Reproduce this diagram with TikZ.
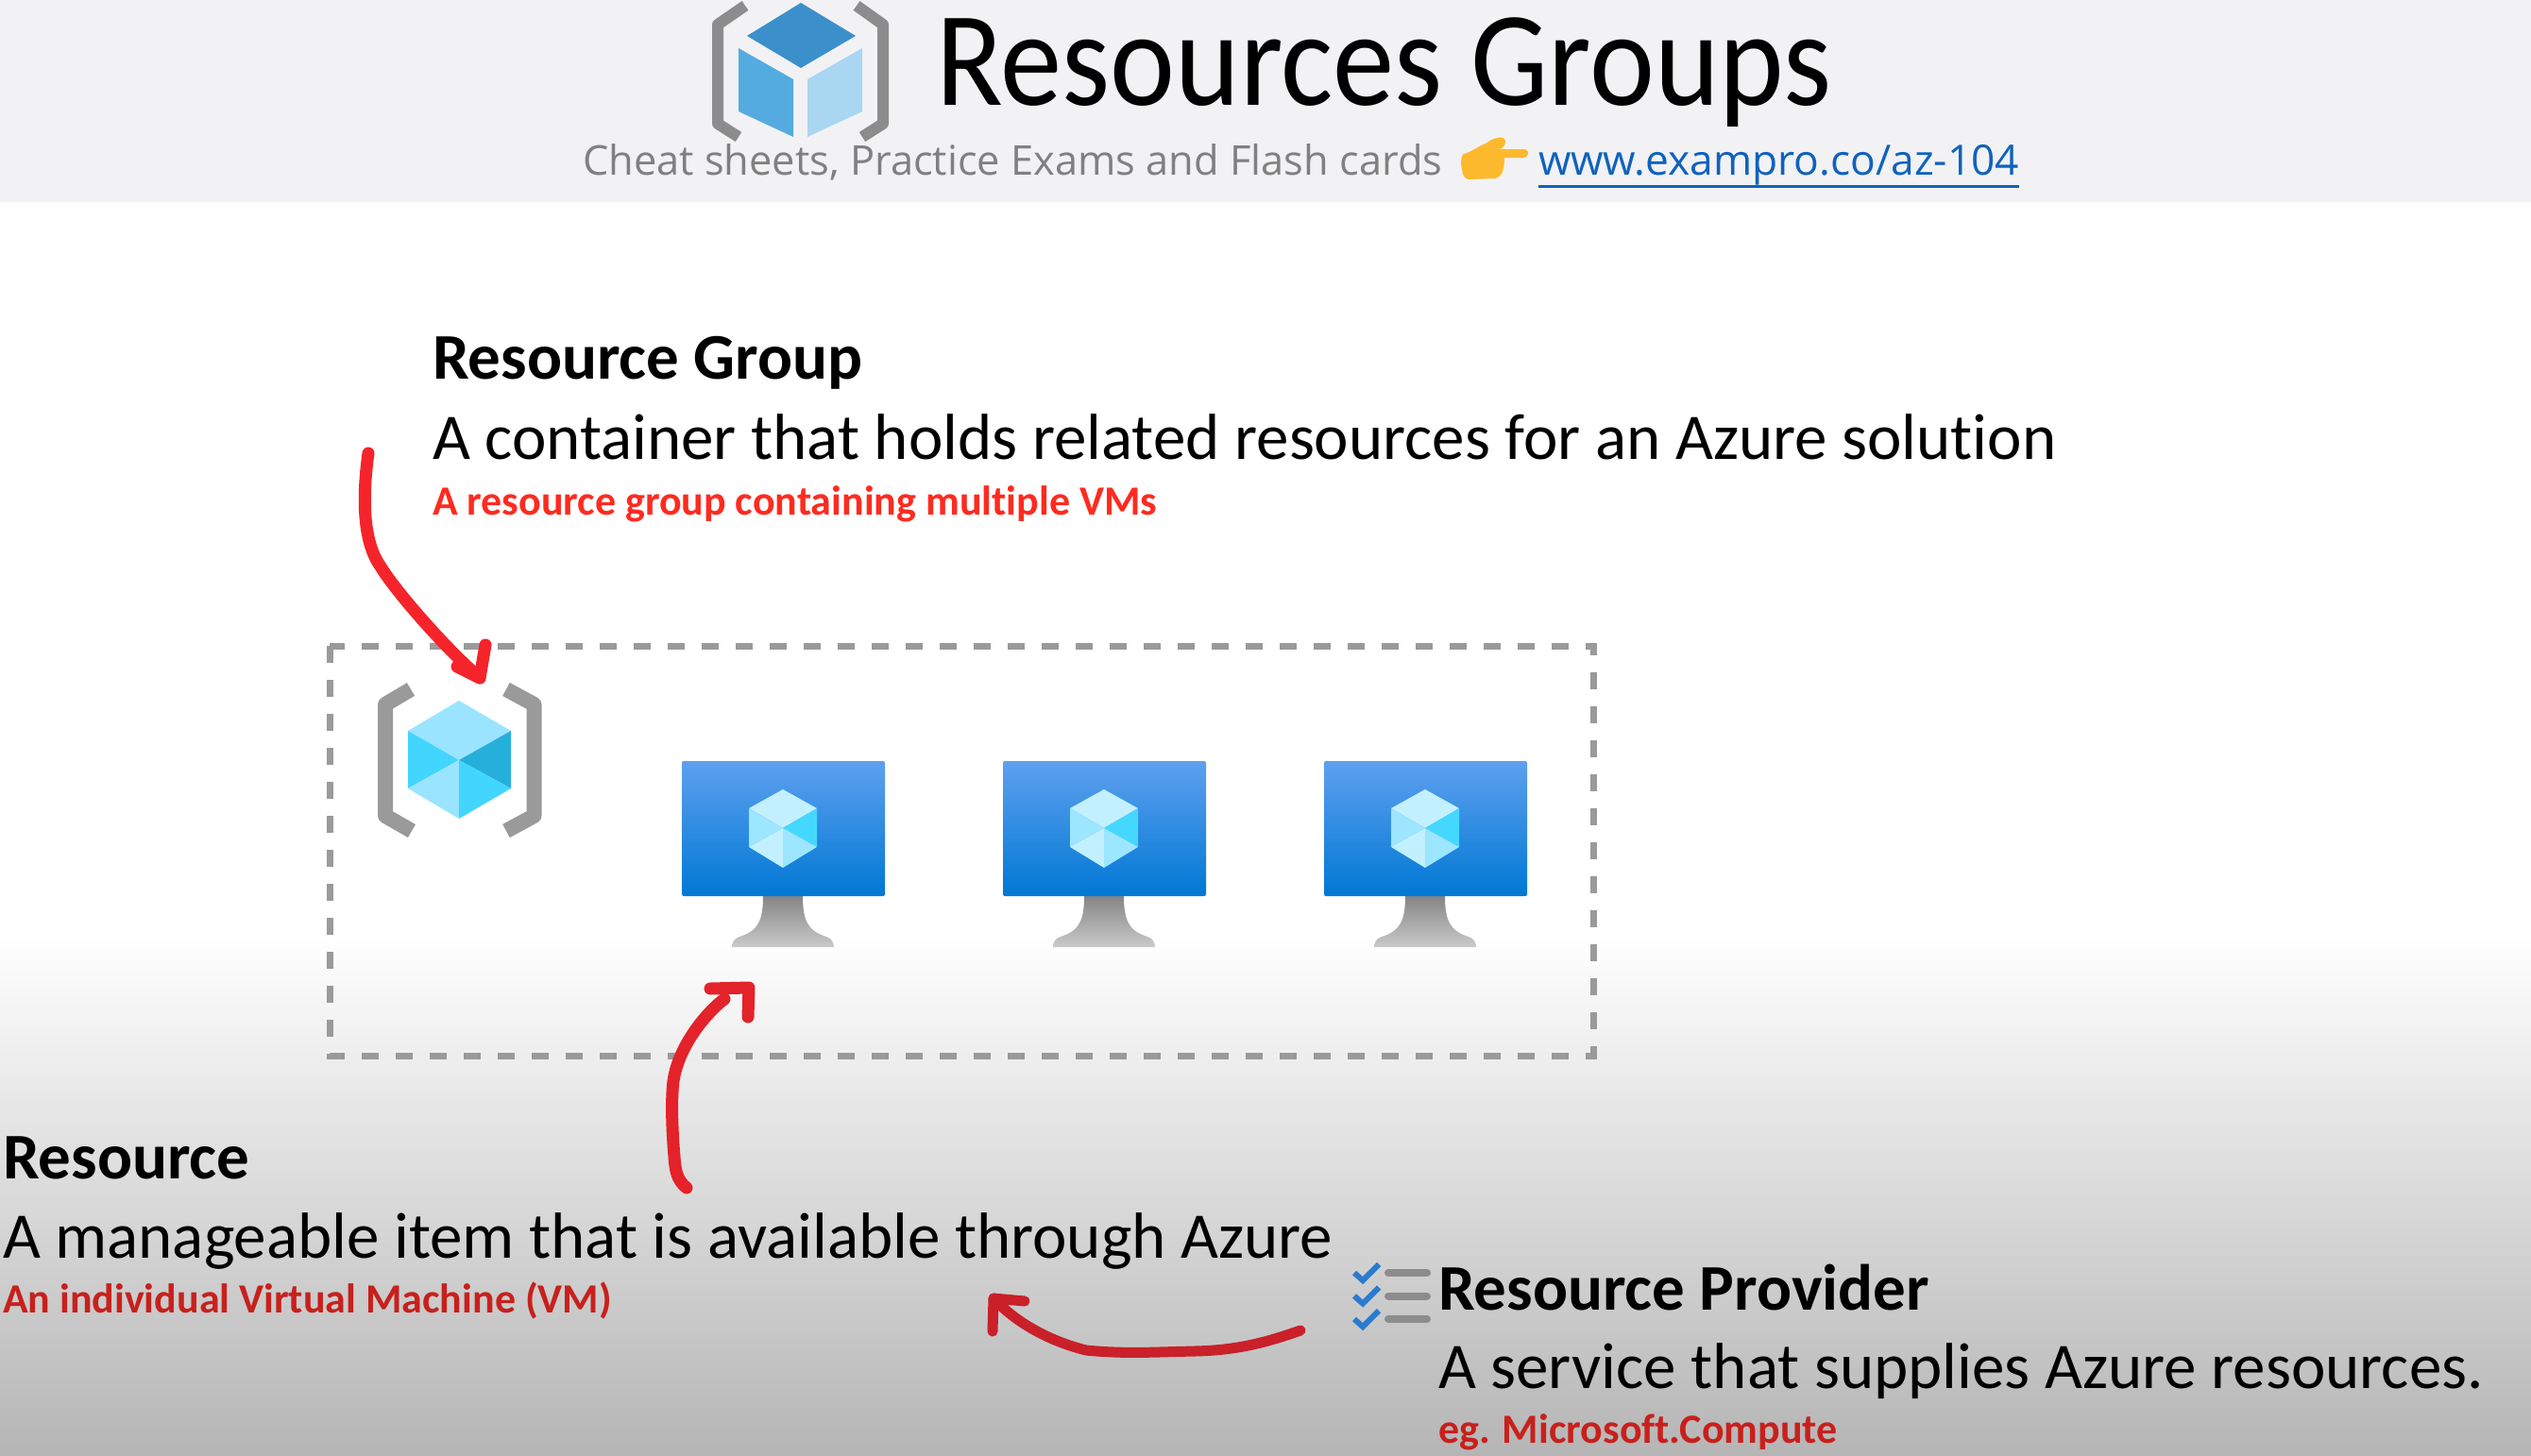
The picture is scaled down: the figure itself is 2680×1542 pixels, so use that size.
\documentclass[tikz,border=0pt]{standalone}
\usepackage{fontspec}
\setmainfont[Ligatures=NoCommon]{Carlito}
\newfontfamily\subfont{Open Sans}
\usetikzlibrary{calc}
\definecolor{headbg}{HTML}{F2F2F4}
\definecolor{lowgray}{HTML}{B5B5B5}
\definecolor{bracketgray}{HTML}{8C8C8C}
\definecolor{rgbracket}{HTML}{9A9A9A}
\definecolor{dashgray}{HTML}{9A9A9A}
\definecolor{brightred}{HTML}{F5242A}
\definecolor{midred}{HTML}{E4222A}
\definecolor{darkred}{HTML}{C9202A}
\definecolor{noteA}{HTML}{FF2A1F}
\definecolor{noteB}{HTML}{C8201C}
\definecolor{linkblue}{HTML}{0F62BE}
\definecolor{cubeA}{HTML}{9AE4FF}
\definecolor{cubeB}{HTML}{42D6FF}
\definecolor{cubeC}{HTML}{27AFDC}
\definecolor{vmA}{HTML}{C3F0FF}
\definecolor{vmB}{HTML}{9CE6FF}
\definecolor{vmC}{HTML}{45D8FF}
\definecolor{hdrTop}{HTML}{3B90CC}
\definecolor{hdrLeft}{HTML}{54ABE0}
\definecolor{hdrRight}{HTML}{A9D6F0}
\definecolor{handcol}{HTML}{FDB92E}
\definecolor{checkblue}{HTML}{2A7BD0}
\definecolor{screenTop}{HTML}{5EA0EF}
\definecolor{screenBot}{HTML}{0078D4}
\definecolor{standTop}{HTML}{858585}
\definecolor{standBot}{HTML}{CACACA}
\tikzset{
  x=1pt,y=-1pt,
  lbl/.style={anchor=base west,inner sep=0pt,outer sep=0pt},
  headfont/.style={lbl,font=\fontsize{69}{80}\selectfont\bfseries},
  bodyfont/.style={lbl,font=\fontsize{69}{80}\selectfont},
  notefont/.style={lbl,font=\fontsize{44}{52}\selectfont\bfseries},
  subfontst/.style={lbl,font=\subfont\fontsize{43.4}{50}\selectfont},
  linkfont/.style={lbl,font=\subfont\fontsize{44.3}{50}\selectfont},
  handarrow/.style={line width=13pt,line cap=round,line join=round},
  pics/vm/.style={code={
    \shade[top color=standTop,bottom color=standBot]
      (-21,0) -- (21,0) .. controls (21,25) and (26,37) .. (46,43) .. controls (52,45) and (54,50) .. (54,54)
      -- (-54,54) .. controls (-54,50) and (-52,45) .. (-46,43) .. controls (-26,37) and (-21,25) .. (-21,0) -- cycle;
    \shade[rounded corners=2pt,top color=screenTop,bottom color=screenBot]
      (-107,-143) rectangle (108,0);
    \fill[vmA] (0,-113) -- (36,-93) -- (0,-72) -- (-36,-93) -- cycle;
    \fill[vmB] (-36,-93) -- (0,-72) -- (-36,-52) -- cycle;
    \fill[vmC] (36,-93) -- (0,-72) -- (36,-52) -- cycle;
    \fill[vmA] (-36,-52) -- (0,-72) -- (0,-30) -- cycle;
    \fill[vmB] (36,-52) -- (0,-72) -- (0,-30) -- cycle;
  }}
}
\begin{document}
\begin{tikzpicture}
\useasboundingbox (0,0) rectangle (2680,1542);
% backgrounds
\fill[white] (0,0) rectangle (2680,1542);
\fill[headbg] (0,0) rectangle (2680,214);
\shade[top color=white,bottom color=lowgray] (0,990) rectangle (2680,1542);

% header icon
\draw[bracketgray,line width=12pt,line join=round] (789,6) -- (760,26) -- (760,131) -- (782,145);
\draw[bracketgray,line width=12pt,line join=round] (907,6) -- (935,26) -- (935,131) -- (913,145);
\fill[hdrTop] (848,3) -- (906,38) -- (848,72) -- (791,38) -- cycle;
\fill[hdrLeft] (782,51) -- (840,84) -- (840,145) -- (782,118) -- cycle;
\fill[hdrRight] (913,51) -- (855,84) -- (855,145) -- (913,118) -- cycle;

% title
\node[lbl] (title) at (991,111) {\scalebox{.913}[1]{\fontsize{143}{160}\selectfont Resources Groups}};
\node[subfontst,text=black!50] (sub) at (617,185.5) {Cheat sheets, Practice Exams and Flash cards};
\fill[handcol] (1548,180) .. controls (1546,170) and (1548,163) .. (1550,163)
  .. controls (1560,160) and (1565,155) .. (1573,152) .. controls (1582,145) and (1594,143) .. (1594,150)
  .. controls (1594,155) and (1590,158) .. (1587,158) -- (1613,158) .. controls (1620,158) and (1620,166) .. (1613,167)
  -- (1593,167) .. controls (1593,180) and (1590,188) .. (1583,189) -- (1555,190) .. controls (1551,189) and (1549,186) .. (1548,180) -- cycle;
\node[linkfont,text=linkblue] (link) at (1629,185.5) {www.exampro.co/az-104};
\draw[linkblue,line width=3pt] (link.base west |- 0,197) -- (link.base east |- 0,197);

% resource group text
\node[headfont] (rgt) at (458,401) {Resource Group};
\node[bodyfont] (rgb) at (458,486) {A container that holds related resources for an Azure solution};
\node[notefont,text=noteA] (rgn) at (458,545) {A resource group containing multiple VMs};

% dashed container
\draw[dashgray,line width=7pt,dash pattern=on 18pt off 18pt] (349,684) rectangle (1687,1118);

% resource-group icon
\draw[rgbracket,line width=16pt,line join=round] (435,730) -- (408,746) -- (408,864) -- (436,880);
\draw[rgbracket,line width=16pt,line join=round] (536,730) -- (565.5,746) -- (565.5,864) -- (536,880);
\fill[cubeA] (486,742) -- (541,774) -- (486,805) -- (432,774) -- cycle;
\fill[cubeB] (432,774) -- (486,805) -- (432,835) -- cycle;
\fill[cubeC] (541,774) -- (486,805) -- (541,835) -- cycle;
\fill[cubeA] (432,835) -- (486,805) -- (486,867) -- cycle;
\fill[cubeB] (541,835) -- (486,805) -- (486,867) -- cycle;

% virtual machines
\pic (vma) at (829,949) {vm};
\pic (vmb) at (1169,949) {vm};
\pic (vmc) at (1509,949) {vm};

% arrow to resource group
\coordinate (rgstart) at (390,480);
\coordinate (rgtip) at (508,718);
\draw[handarrow,brightred] (rgstart) .. controls (383,530) and (385,575) .. (403,600)
  .. controls (418,625) and (470,685) .. (rgtip);
\draw[handarrow,brightred] (484,706) -- (rgtip) -- (514,683);

% resource text
\node[headfont] (rt) at (3,1248) {Resource};
\node[bodyfont] (rb) at (3,1332) {A manageable item that is available through Azure};
\node[notefont,text=noteB] (rn) at (3,1390) {An individual Virtual Machine (VM)};

% arrow to VM
\coordinate (vmstart) at (727,1258);
\coordinate (vmtip) at (793,1046);
\draw[handarrow,midred] (vmstart) .. controls (717,1250) and (715,1240) .. (714,1225)
  .. controls (711,1190) and (711,1160) .. (713,1145) .. controls (718,1110) and (745,1075) .. (767,1058);
\draw[handarrow,midred] (752,1047) -- (vmtip) -- (792,1077);

% resource provider text
\node[headfont] (pt) at (1523,1387) {Resource Provider};
\node[bodyfont] (pb) at (1523,1470) {A service that supplies Azure resources.};
\node[notefont,text=noteB] (pn) at (1523,1528) {eg. Microsoft.Compute};

% provider checklist
\foreach \yy in {0,24.5,49}{
  \draw[checkblue,line width=6pt] (1434,1348+\yy) -- (1443,1356+\yy) -- (1460,1339+\yy);
  \draw[bracketgray,line width=8pt,line cap=round] (1470,1348+\yy) -- (1511,1348+\yy);
}

% arrow from provider
\coordinate (pstart) at (1377,1409);
\coordinate (ptip) at (1052,1375);
\draw[handarrow,darkred,line width=11pt] (pstart) .. controls (1340,1422) and (1310,1430) .. (1265,1431)
  .. controls (1220,1432) and (1190,1434) .. (1150,1430) .. controls (1110,1420) and (1075,1400) .. (ptip);
\draw[handarrow,darkred,line width=11pt] (1085,1378) -- (ptip) -- (1051,1410);
\end{tikzpicture}
\end{document}
